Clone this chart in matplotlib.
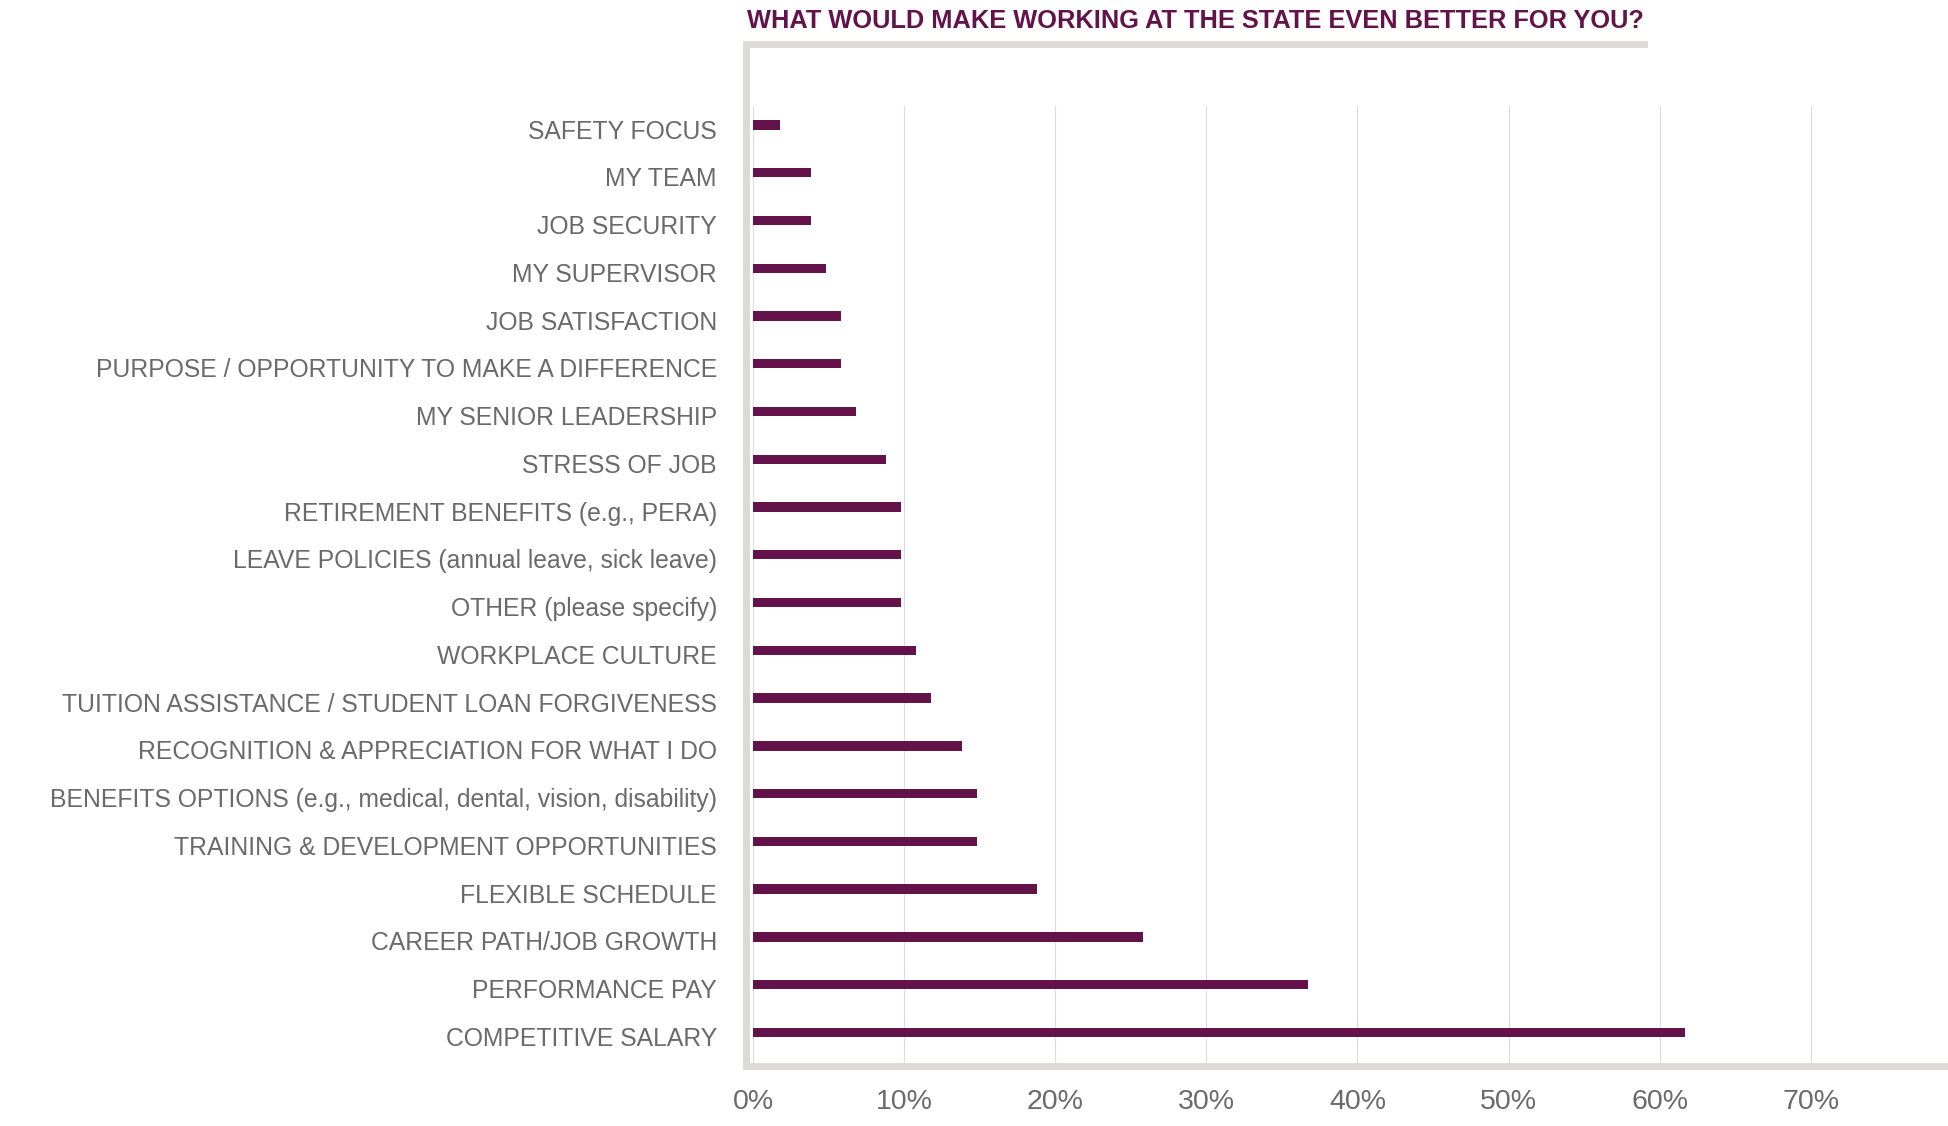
import matplotlib
matplotlib.use("Agg")
import matplotlib.pyplot as plt
from matplotlib.patches import Rectangle
from matplotlib.transforms import ScaledTranslation

# Survey responses, top to bottom
categories = [
    "SAFETY FOCUS",
    "MY TEAM",
    "JOB SECURITY",
    "MY SUPERVISOR",
    "JOB SATISFACTION",
    "PURPOSE / OPPORTUNITY TO MAKE A DIFFERENCE",
    "MY SENIOR LEADERSHIP",
    "STRESS OF JOB",
    "RETIREMENT BENEFITS (e.g., PERA)",
    "LEAVE POLICIES (annual leave, sick leave)",
    "OTHER (please specify)",
    "WORKPLACE CULTURE",
    "TUITION ASSISTANCE / STUDENT LOAN FORGIVENESS",
    "RECOGNITION & APPRECIATION FOR WHAT I DO",
    "BENEFITS OPTIONS (e.g., medical, dental, vision, disability)",
    "TRAINING & DEVELOPMENT OPPORTUNITIES",
    "FLEXIBLE SCHEDULE",
    "CAREER PATH/JOB GROWTH",
    "PERFORMANCE PAY",
    "COMPETITIVE SALARY",
]
percent = [1.8, 3.8, 3.8, 4.8, 5.8, 5.8, 6.8, 8.8, 9.8, 9.8,
           9.8, 10.8, 11.8, 13.8, 14.8, 14.8, 18.8, 25.8, 36.7, 61.7]
tick_values = [0, 10, 20, 30, 40, 50, 60, 70]
tick_labels = ["0%", "10%", "20%", "30%", "40%", "50%", "60%", "70%"]
title = "WHAT WOULD MAKE WORKING AT THE STATE EVEN BETTER FOR YOU?"

W, H = 1949, 1126
BAR = "#63134A"
TEXT = "#6A6A6A"
FRAME = "#DDDBD9"
GRID = "#DCDCDC"
SANS = ["Liberation Sans", "DejaVu Sans"]

fig = plt.figure(figsize=(W / 100, H / 100), dpi=100)
fig.patch.set_facecolor("white")


def fx(px):
    return px / W


def fy(py):
    return 1 - py / H


# plot area in pixel coordinates
left, right, top, bottom = 753.1, 1949.0, 106.0, 1063.0
ax = fig.add_axes([fx(left), fy(bottom), fx(right - left), (bottom - top) / H])
ax.set_facecolor("none")

y = list(range(len(categories)))
ax.barh(y, percent, height=0.195, color=BAR, zorder=3)

ax.set_xlim(0, (right - left) / 15.11)
ax.set_ylim(19.64, -0.398)

ax.set_xticks(tick_values)
ax.set_xticklabels(tick_labels)
ax.set_yticks(y)
ax.set_yticklabels(categories)

for s in ax.spines.values():
    s.set_visible(False)

ax.xaxis.grid(True, color=GRID, linewidth=0.8, zorder=0)
ax.yaxis.grid(False)
ax.tick_params(axis="both", length=0)
ax.tick_params(axis="x", pad=19, labelsize=20.5, labelcolor=TEXT)
ax.tick_params(axis="y", pad=26, labelsize=17.8, labelcolor=TEXT)
shift = ScaledTranslation(0, -4 / 100, fig.dpi_scale_trans)
for lab in ax.get_xticklabels():
    lab.set_family(SANS)
for lab in ax.get_yticklabels():
    lab.set_family(SANS)
    lab.set_transform(lab.get_transform() + shift)

# frame: left bar, bottom bar and header rule
fig.add_artist(Rectangle((fx(743), fy(1070)), fx(7), (1070 - 41) / H,
                         transform=fig.transFigure, color=FRAME, lw=0, zorder=5))
fig.add_artist(Rectangle((fx(743), fy(1070)), fx(W - 743), 7 / H,
                         transform=fig.transFigure, color=FRAME, lw=0, zorder=5))
fig.add_artist(Rectangle((fx(743), fy(48)), fx(1648 - 743), 7 / H,
                         transform=fig.transFigure, color=FRAME, lw=0, zorder=5))

fig.text(fx(1195), fy(21), title, ha="center", va="center",
         fontsize=18.3, fontweight="bold", color=BAR,
         family=["Liberation Sans Narrow", "Liberation Sans", "DejaVu Sans"])

fig.savefig("out.png", dpi=100, facecolor="white")
